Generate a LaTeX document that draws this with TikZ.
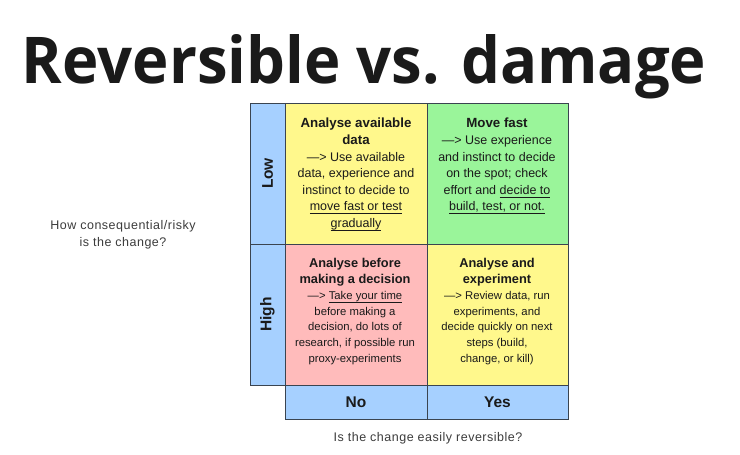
\documentclass[tikz,border=0pt]{standalone}
\usepackage{fontspec}
\setmainfont{Liberation Sans}
\newfontfamily\titlefont{Open Sans}
\newfontfamily\notefont[LetterSpace=4]{Liberation Sans}
\definecolor{cblue}{HTML}{A6D0FF}
\definecolor{cyellow}{HTML}{FFF88C}
\definecolor{cgreen}{HTML}{9AF59A}
\definecolor{cpink}{HTML}{FFBBBB}
\definecolor{cline}{HTML}{3A4450}
\definecolor{ctext}{HTML}{1A1A1A}
\newcommand{\myul}[1]{\leavevmode\setbox0\hbox{#1}\dp0=0pt\vtop{\box0\kern2.4pt\hrule height 0.8pt}}
\begin{document}
\begin{tikzpicture}[x=1pt,y=-1pt,
  box/.style={draw=cline,line width=0.9pt,anchor=north west,inner sep=0pt,outer sep=0pt},
  celltext/.style={anchor=north,align=center,text=ctext,inner sep=0pt,font=\fontsize{12.5}{16.6}\selectfont},
  celltextb/.style={anchor=north,align=center,text=ctext,inner sep=0pt,font=\fontsize{11.3}{15.6}\selectfont},
  axlabel/.style={text=ctext,inner sep=0pt,font=\fontsize{15.5}{18}\selectfont\bfseries},
  note/.style={align=center,text=ctext!85,inner sep=0pt,font=\notefont\fontsize{12.5}{17}\selectfont}]
\useasboundingbox[fill=white] (0,0) rectangle (740,455);
% title
\node[anchor=base,inner sep=0pt,text=ctext,font=\titlefont\fontsize{64.5}{70}\selectfont\bfseries] (title) at (364,83) {\scalebox{0.955}[1]{Reversible vs. damage}};
% grid
\node[box,fill=cblue,minimum width=35pt,minimum height=141pt] (low) at (250,103) {};
\node[box,fill=cblue,minimum width=35pt,minimum height=141pt] (high) at (250,244) {};
\node[box,fill=cyellow,minimum width=142pt,minimum height=141pt] (tl) at (285,103) {};
\node[box,fill=cgreen,minimum width=141pt,minimum height=141pt] (tr) at (427,103) {};
\node[box,fill=cpink,minimum width=142pt,minimum height=141pt] (bl) at (285,244) {};
\node[box,fill=cyellow,minimum width=141pt,minimum height=141pt] (br) at (427,244) {};
\node[box,fill=cblue,minimum width=142pt,minimum height=34pt] (no) at (285,385) {};
\node[box,fill=cblue,minimum width=141pt,minimum height=34pt] (yes) at (427,385) {};
% axis labels
\node[axlabel,rotate=90] (lowt) at (low.center) {Low};
\node[axlabel,rotate=90] (hight) at (high.center) {High};
\node[axlabel] (not) at (no.center) {No};
\node[axlabel] (yest) at (yes.center) {Yes};
% cell texts
\node[celltext] (tlt) at (356,118) {{\bfseries\fontsize{13.3}{16.6}\selectfont Analyse available}\\{\bfseries\fontsize{13.3}{16.6}\selectfont data}\\—> Use available\\data, experience and\\instinct to decide to\\\myul{move fast or test}\\\myul{gradually}};
\node[celltext] (trt) at (497,118) {{\bfseries\fontsize{13.3}{16.6}\selectfont Move fast}\\—> Use experience\\and instinct to decide\\on the spot; check\\effort and \myul{decide to}\\\myul{build, test, or not.}};
\node[celltextb] (blt) at (355,258) {{\bfseries\fontsize{12.8}{17}\selectfont Analyse before}\\{\bfseries\fontsize{12.8}{17}\selectfont making a decision}\\[1pt]—> \myul{Take your time}\\before making a\\decision, do lots of\\research, if possible run\\proxy-experiments};
\node[celltextb] (brt) at (497,258) {{\bfseries\fontsize{12.8}{17}\selectfont Analyse and}\\{\bfseries\fontsize{12.8}{17}\selectfont experiment}\\[1pt]—> Review data, run\\experiments, and\\decide quickly on next\\steps (build,\\change, or kill)};
% notes
\node[note] (risk) at (123,234.5) {How consequential/risky\\is the change?};
\node[note] (rev) at (428,438) {Is the change easily reversible?};
\end{tikzpicture}
\end{document}
